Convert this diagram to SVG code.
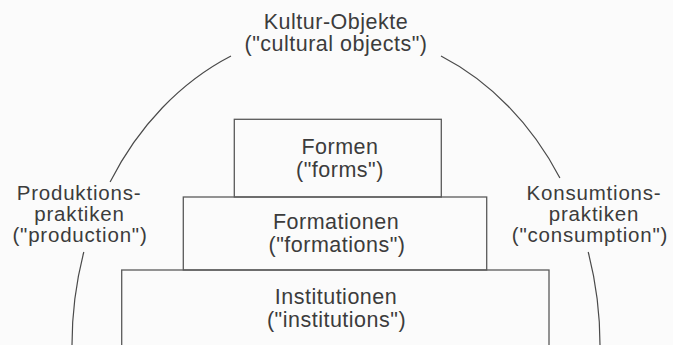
<svg xmlns="http://www.w3.org/2000/svg" width="673" height="345" viewBox="0 0 673 345">
<style>
.t{font-family:"Liberation Sans",Arial,sans-serif;font-size:21.5px;letter-spacing:0.5px;fill:#3c3c3c;text-anchor:middle}
.s{font-size:20.5px;letter-spacing:0.8px}
.box{fill:none;stroke:#5a5a5a;stroke-width:1.3}
.arc{fill:none;stroke:#4a4a4a;stroke-width:1.2}
</style>
<rect width="673" height="345" fill="#fbfbfb"/>
<g id="connectors">
<path class="arc" d="M110.1,182 A264,315 0 0 1 231,56"/>
<path class="arc" d="M441,56 A264,315 0 0 1 559.9,178"/>
<path class="arc" d="M72,345 A264,315 0 0 1 83.8,252"/>
<path class="arc" d="M588.2,252 A264,315 0 0 1 600,345"/>
</g>
<g id="kultur">
<text class="t" x="336" y="29">Kultur-Objekte</text>
<text class="t" x="336" y="51.3">("cultural objects")</text>
</g>
<g id="produktion">
<text class="t s" x="79" y="199.6">Produktions-</text>
<text class="t s" x="79.5" y="220.9">praktiken</text>
<text class="t s" x="80" y="242.2">("production")</text>
</g>
<g id="konsumtion">
<text class="t s" x="594" y="199.6">Konsumtions-</text>
<text class="t s" x="594" y="220.9">praktiken</text>
<text class="t s" x="590" y="242.2">("consumption")</text>
</g>
<g id="formen">
<rect class="box" x="234.3" y="119.3" width="207" height="77.7"/>
<text class="t" x="340" y="154.3">Formen</text>
<text class="t" x="340" y="176.7">("forms")</text>
</g>
<g id="formationen">
<rect class="box" x="183.3" y="197" width="303.4" height="73"/>
<text class="t" x="336" y="229">Formationen</text>
<text class="t" x="337" y="251.6">("formations")</text>
</g>
<g id="institutionen">
<rect class="box" x="121.7" y="270" width="427.3" height="90"/>
<text class="t" x="336" y="304.3">Institutionen</text>
<text class="t" x="336.5" y="326.8">("institutions")</text>
</g>
</svg>
